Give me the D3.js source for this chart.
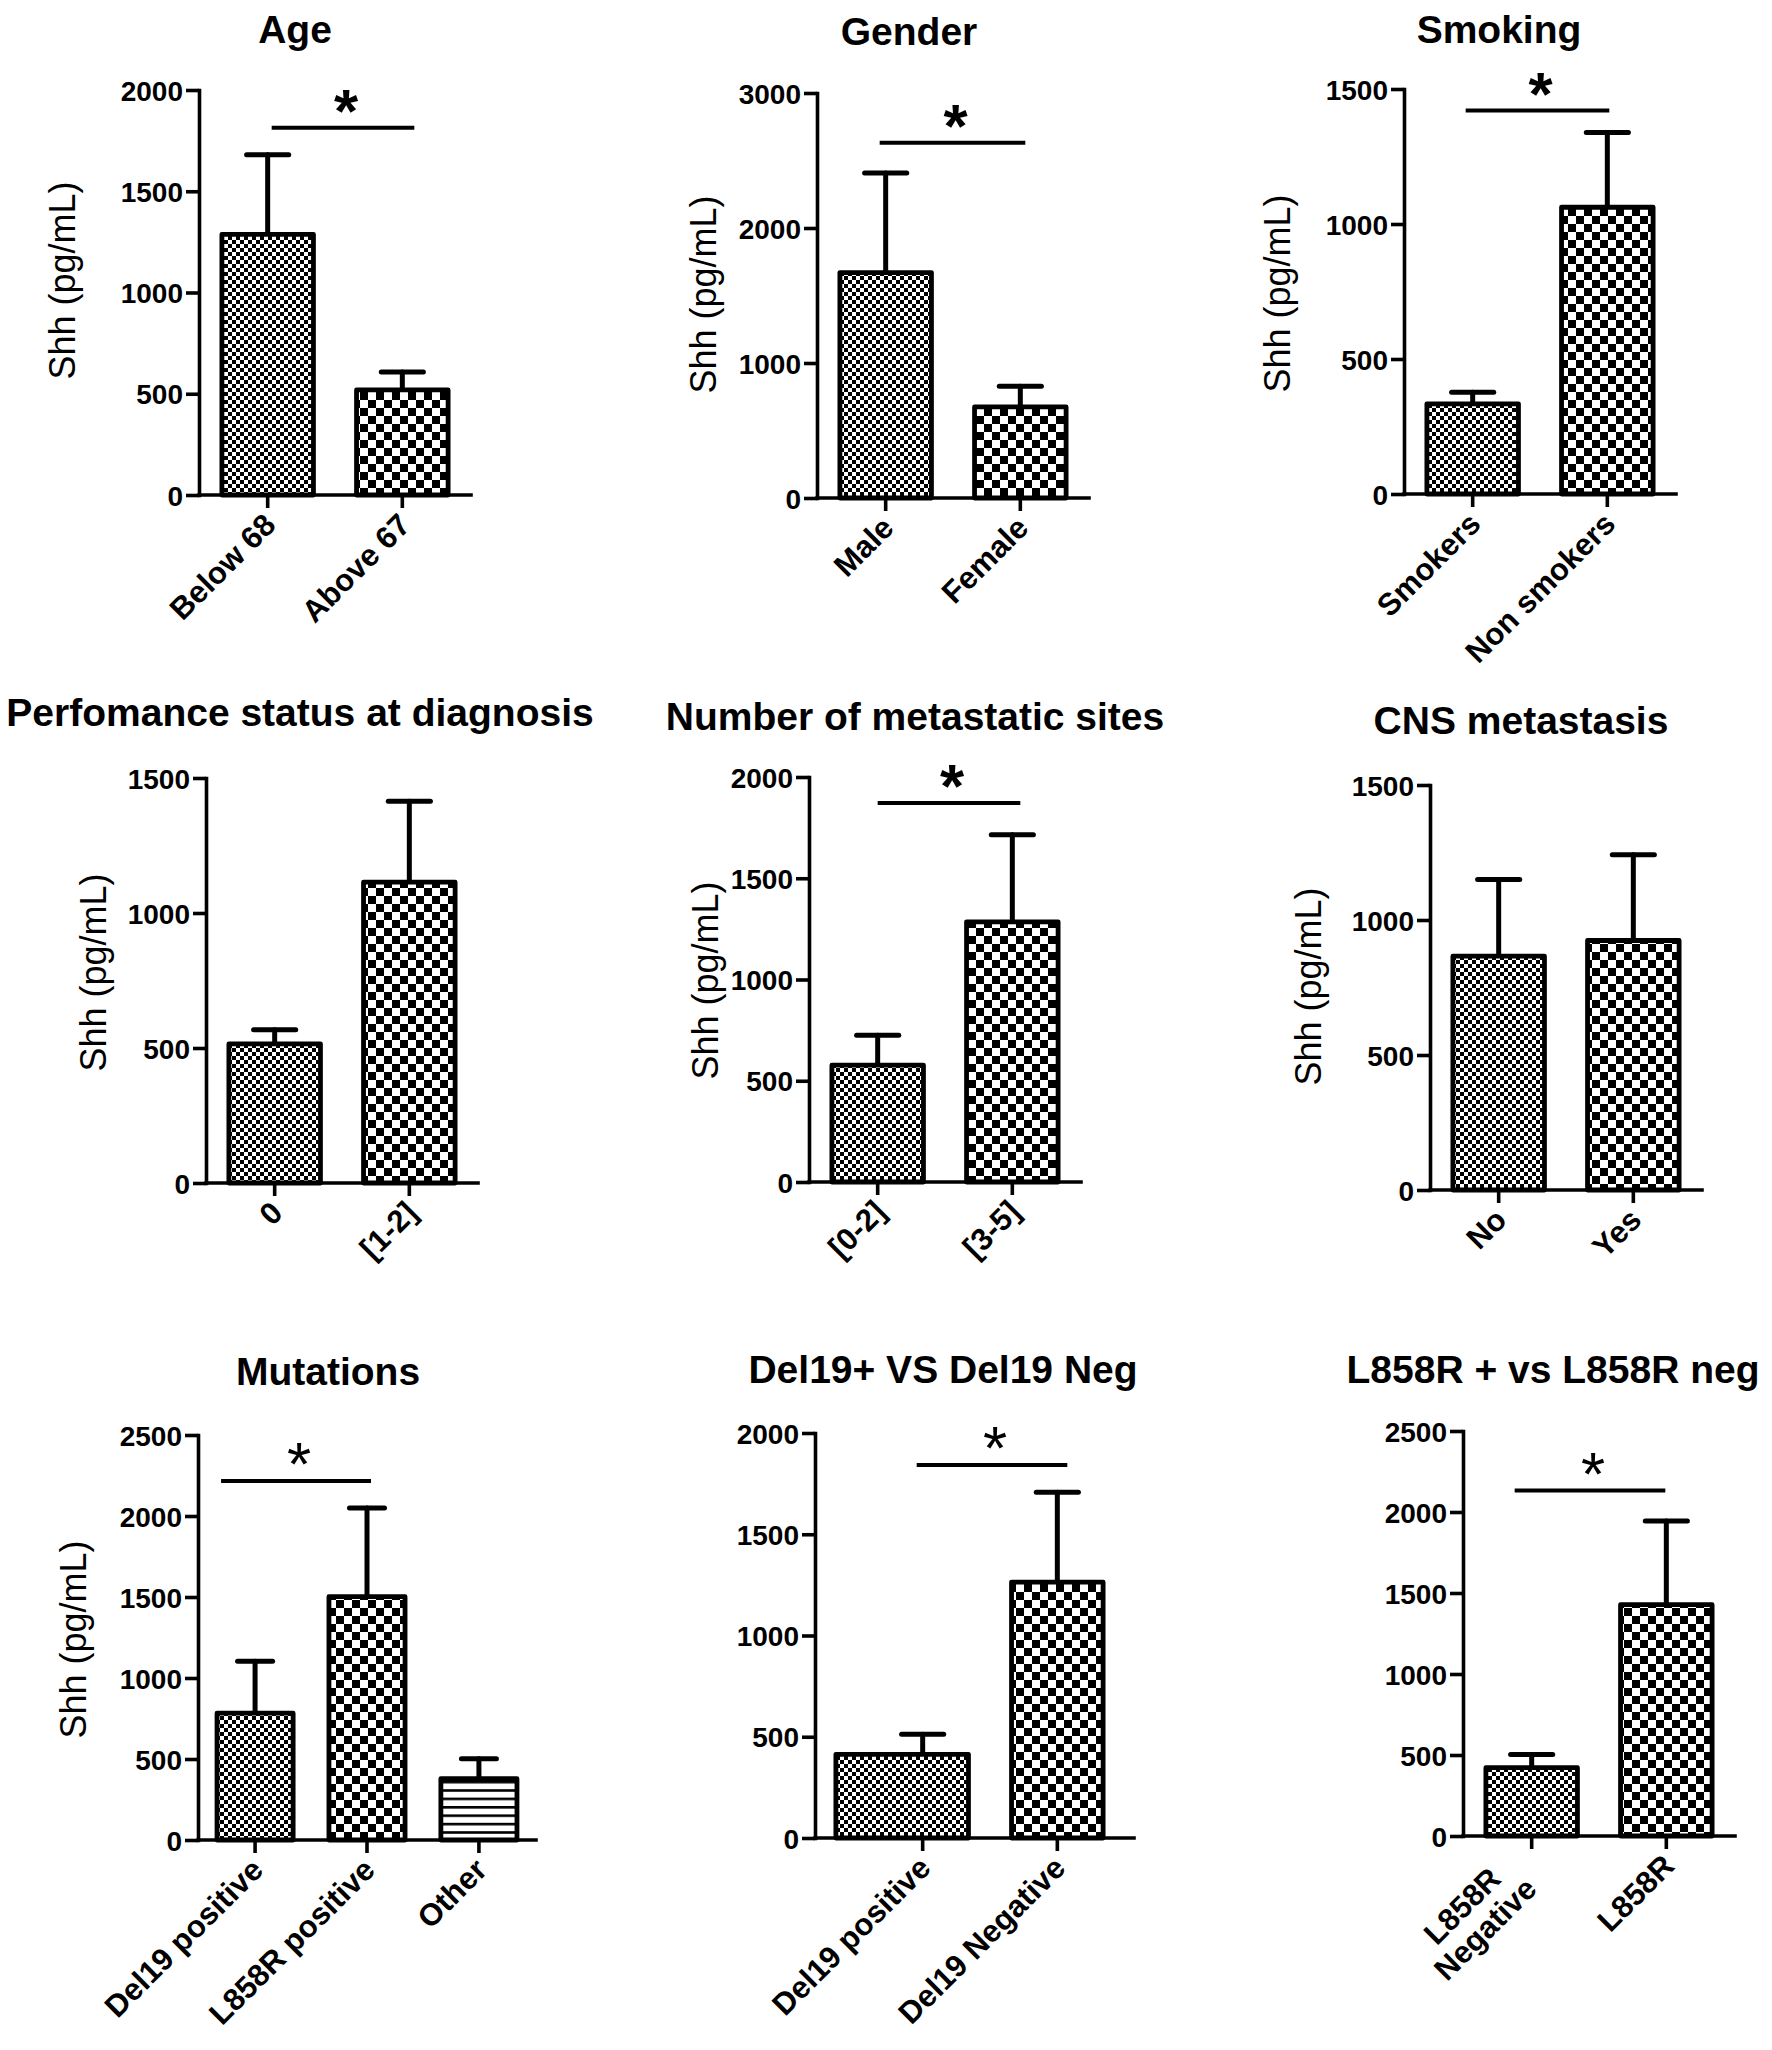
<!DOCTYPE html>
<html lang="en">
<head>
<meta charset="UTF-8">
<title>Shh levels by clinical group</title>
<style>
  body { margin: 0; background: #fff; }
  svg { display: block; }
  text { font-family: "Liberation Sans", Arial, sans-serif; fill: #000; }
</style>
</head>
<body>
<script src="https://cdn.jsdelivr.net/npm/d3@7"></script>
<script>
// ---- data ----
var titles = ["Age", "Gender", "Smoking",
              "Perfomance status at diagnosis", "Number of metastatic sites", "CNS metastasis",
              "Mutations", "Del19+ VS Del19 Neg", "L858R + vs L858R neg"];

var categories = [
  ["Below 68", "Above 67"],
  ["Male", "Female"],
  ["Smokers", "Non smokers"],
  ["0", "[1-2]"],
  ["[0-2]", "[3-5]"],
  ["No", "Yes"],
  ["Del19 positive", "L858R positive", "Other"],
  ["Del19 positive", "Del19 Negative"],
  ["L858R\nNegative", "L858R"]
];

var means = [
  [1287, 519],
  [1670, 675],
  [334, 1062],
  [515, 1114],
  [577, 1285],
  [866, 924],
  [783, 1502, 378],
  [413, 1264],
  [422, 1428]
];

var sems = [
  [393, 88],
  [738, 153],
  [43, 277],
  [53, 300],
  [148, 430],
  [284, 318],
  [321, 548, 124],
  [99, 443],
  [81, 517]
];

var yMax  = [2000, 3000, 1500, 1500, 2000, 1500, 2500, 2000, 2500];
var yStep = [500, 1000, 500, 500, 500, 500, 500, 500, 500];
var sigY  = [1813, 2631, 1420, null, 1872, null, 2216, 1842, 2132];
var yLabel = "Shh (pg/mL)";
var showYLabel = [true, true, true, true, true, true, true, false, false];

// ---- layout (pixels) ----
var plotH = 405;
var layout = [
  {x: 199,  y0: 495,  w: 272, tx: 295,  ty: 29,   lab: 137, labY: -4, sig: [4, 12],  boldStar: true},
  {x: 817,  y0: 498,  w: 272, tx: 909,  ty: 31,   lab: 114, labY: 7,  sig: [-6, 5],  boldStar: true},
  {x: 1404, y0: 494,  w: 272, tx: 1499, ty: 29,   lab: 127, labY: 10, sig: [-7, 2],  boldStar: true},
  {x: 206,  y0: 1183, w: 272, tx: 300,  ty: 712,  lab: 113, labY: 0},
  {x: 809,  y0: 1182, w: 272, tx: 915,  ty: 716,  lab: 104, labY: 9,  sig: [0, 8],   boldStar: true},
  {x: 1430, y0: 1190, w: 272, tx: 1521, ty: 720,  lab: 122, labY: 7},
  {x: 198,  y0: 1840, w: 338, tx: 328,  ty: 1371, lab: 125, labY: 10, sig: [-34, 4], boldStar: false},
  {x: 815,  y0: 1838, w: 272, tx: 943,  ty: 1369, sig: [-6, 10], boldStar: false,
   inset: 39, firstExtra: 41, axisExtra: 8},
  {x: 1463, y0: 1836, w: 272, tx: 1553, ty: 1369, sig: [-17, -1], boldStar: false}
];
var patterns = ["fine", "coarse", "hlines"];

var svg = d3.select('body').append('svg')
    .attr('width', 1772)
    .attr('height', 2050);

var defs = svg.append('defs');

function checker(id, cell) {
  var p = defs.append('pattern')
      .attr('id', id)
      .attr('patternUnits', 'userSpaceOnUse')
      .attr('width', cell * 2)
      .attr('height', cell * 2);
  p.append('rect').attr('width', cell * 2).attr('height', cell * 2).attr('fill', '#fff');
  p.append('rect').attr('width', cell).attr('height', cell).attr('fill', '#000');
  p.append('rect').attr('x', cell).attr('y', cell).attr('width', cell).attr('height', cell).attr('fill', '#000');
}
checker('fine', 4);
checker('coarse', 8);

var hl = defs.append('pattern')
    .attr('id', 'hlines')
    .attr('patternUnits', 'userSpaceOnUse')
    .attr('width', 8)
    .attr('height', 8.4);
hl.append('rect').attr('width', 8).attr('height', 8.4).attr('fill', '#fff');
hl.append('rect').attr('width', 8).attr('height', 2.6).attr('fill', '#000');

layout.forEach(function(L, i) {
  var g = svg.append('g');
  var inset = L.inset || 0;

  var y = d3.scaleLinear()
      .domain([0, yMax[i]])
      .range([L.y0, L.y0 - plotH]);

  var x = d3.scaleBand()
      .domain(categories[i])
      .range([L.x + inset, L.x + inset + L.w])
      .paddingInner(0.32)
      .paddingOuter(0.17);

  var bw = x.bandwidth();
  var rows = categories[i].map(function(c, j) {
    return {cat: c, mean: means[i][j], sem: sems[i][j], pat: patterns[j],
            extra: j === 0 ? (L.firstExtra || 0) : 0};
  });

  // error bars (upper only), drawn behind the bars
  var err = g.append('g')
      .attr('stroke', '#000')
      .attr('stroke-width', 5)
      .attr('stroke-linecap', 'round');
  err.selectAll('line.v').data(rows).enter().append('line')
      .attr('x1', function(d) { return x(d.cat) + bw / 2; })
      .attr('x2', function(d) { return x(d.cat) + bw / 2; })
      .attr('y1', function(d) { return y(d.mean); })
      .attr('y2', function(d) { return y(d.mean + d.sem); });
  err.selectAll('line.h').data(rows).enter().append('line')
      .attr('x1', function(d) { return x(d.cat) + bw * 0.27; })
      .attr('x2', function(d) { return x(d.cat) + bw * 0.73; })
      .attr('y1', function(d) { return y(d.mean + d.sem); })
      .attr('y2', function(d) { return y(d.mean + d.sem); });

  // bars
  g.selectAll('rect.bar').data(rows).enter().append('rect')
      .attr('class', 'bar')
      .attr('x', function(d) { return x(d.cat) - d.extra; })
      .attr('width', function(d) { return bw + d.extra; })
      .attr('y', function(d) { return y(d.mean); })
      .attr('height', function(d) { return L.y0 - y(d.mean); })
      .attr('fill', function(d) { return 'url(#' + d.pat + ')'; })
      .attr('stroke', '#000')
      .attr('stroke-width', 4.8)
      .attr('stroke-linejoin', 'round');

  // y axis
  var ya = g.append('g')
      .attr('transform', 'translate(' + L.x + ',0)')
      .call(d3.axisLeft(y)
        .tickValues(d3.range(0, yMax[i] + 1, yStep[i]))
        .tickSize(13)
        .tickSizeOuter(0)
        .tickPadding(3)
        .tickFormat(d3.format('d')));

  // x axis: ticks from the band scale, baseline from the y axis to the range end
  var xa = g.append('g')
      .attr('transform', 'translate(0,' + L.y0 + ')')
      .call(d3.axisBottom(x)
        .tickSize(13)
        .tickSizeOuter(0)
        .tickFormat(''));
  xa.select('.domain').remove();
  xa.append('line')
      .attr('x1', L.x).attr('x2', L.x + inset + L.w + (L.axisExtra || 0))
      .attr('stroke', '#000')
      .attr('stroke-width', 3.6)
      .attr('stroke-linecap', 'square');

  ya.select('.domain').attr('stroke-width', 3.6).attr('stroke-linecap', 'square');
  [ya, xa].forEach(function(a) {
    a.selectAll('.tick line').attr('stroke-width', 3.6);
  });
  ya.selectAll('.tick text')
      .style('font-size', '28px')
      .style('font-weight', 'bold')
      .attr('dy', '0.36em');

  // rotated category labels
  categories[i].forEach(function(c) {
    var cx = x(c) + bw / 2;
    var lines = c.split('\n');
    var shift = lines.length > 1 ? -26 : 0;
    var t = g.append('text')
        .attr('transform', 'translate(' + (cx - 6 + shift) + ',' + (L.y0 + 16) + ') rotate(-45)')
        .attr('text-anchor', 'middle')
        .style('font-size', '31px')
        .style('font-weight', 'bold');
    var spans = lines.map(function(ln, k) {
      return t.append('tspan')
          .attr('dy', k === 0 ? '0.72em' : '1.05em')
          .text(ln);
    });
    var maxW = d3.max(spans, function(s) { return s.node().getComputedTextLength(); });
    spans.forEach(function(s) { s.attr('x', -maxW / 2); });
  });

  // y label
  if (showYLabel[i]) {
    g.append('text')
        .attr('transform', 'translate(' + (L.x - L.lab) + ',' + (L.y0 - plotH / 2 - 8 + L.labY) + ') rotate(-90)')
        .attr('text-anchor', 'middle')
        .attr('dy', '0.36em')
        .style('font-size', '36px')
        .text(yLabel);
  }

  // title
  g.append('text')
      .attr('x', L.tx)
      .attr('y', L.ty + 14)
      .attr('text-anchor', 'middle')
      .style('font-size', '39px')
      .style('font-weight', 'bold')
      .text(titles[i]);

  // significance bar
  if (sigY[i] != null) {
    var c0 = x(categories[i][0]) + bw / 2 + L.sig[0],
        c1 = x(categories[i][1]) + bw / 2 + L.sig[1],
        ly = y(sigY[i]);
    g.append('line')
        .attr('x1', c0).attr('x2', c1)
        .attr('y1', ly).attr('y2', ly)
        .attr('stroke', '#000')
        .attr('stroke-width', 4);
    g.append('text')
        .attr('x', (c0 + c1) / 2 + 3)
        .attr('y', ly + 4)
        .attr('text-anchor', 'middle')
        .style('font-size', '62px')
        .style('font-weight', L.boldStar ? 'bold' : 'normal')
        .text('*');
  }
});
</script>
</body>
</html>
